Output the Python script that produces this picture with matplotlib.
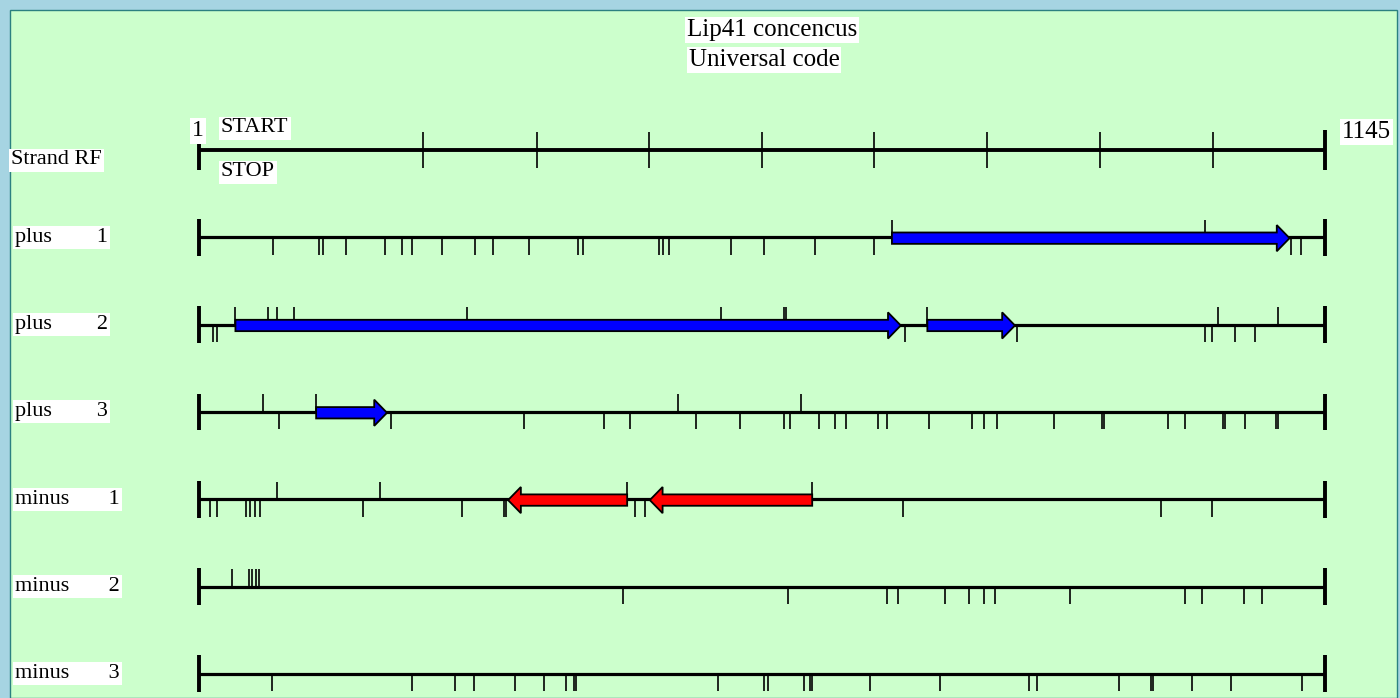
import matplotlib
matplotlib.use("Agg")
import matplotlib.pyplot as plt
from matplotlib.patches import Rectangle, FancyArrow

plt.rcParams['font.family'] = ['Liberation Serif', 'DejaVu Serif']

seq_len = 1145
title = "Lip41 concencus"
subtitle = "Universal code"
ruler_ticks = [229, 344, 458, 573, 687, 802, 916, 1031]

row_names = ["plus        1", "plus        2", "plus        3",
             "minus       1", "minus       2", "minus       3"]

# start codons (ticks above the line)
starts = [
    [705, 1023],
    [38, 71, 80, 98, 273, 531, 595, 597, 741, 1036, 1097],
    [66, 120, 488, 613],
    [80, 185, 436, 624],
    [35, 52, 55, 59, 62],
    [],
]

# stop codons (ticks below the line)
stops = [
    [76, 123, 127, 150, 190, 207, 217, 248, 281, 300, 336, 386, 391, 468, 472,
     479, 542, 575, 627, 687, 1110, 1121],
    [15, 19, 718, 832, 1023, 1030, 1054, 1074],
    [82, 196, 331, 412, 439, 506, 551, 595, 601, 631, 647, 658, 691, 700, 743,
     786, 799, 812, 870, 918, 920, 985, 1003, 1041, 1043, 1064, 1095, 1097],
    [12, 19, 49, 53, 58, 63, 168, 268, 311, 313, 444, 454, 716, 978, 1030],
    [432, 599, 700, 711, 759, 783, 799, 810, 886, 1003, 1020, 1063, 1081],
    [75, 217, 261, 280, 322, 351, 374, 382, 384, 528, 575, 579, 616, 622, 624,
     683, 754, 844, 852, 936, 968, 970, 1010, 1050, 1122],
]

# open reading frames: (start, end); minus strand runs right to left
orfs = [
    [(705, 1109)],
    [(38, 714), (741, 830)],
    [(120, 192)],
    [(436, 315), (624, 459)],
    [],
    [],
]

fig = plt.figure(figsize=(14, 6.98), dpi=100)
fig.patch.set_facecolor('#a6d4e2')
fig.patches.append(Rectangle((10 / 1400, 0), 1387 / 1400, 688 / 698,
                             transform=fig.transFigure, facecolor='#ccffcc',
                             edgecolor='#2b8080', linewidth=1, zorder=-10))

ax = fig.add_axes([0, 0, 1, 1])
ax.set_axis_off()
ax.patch.set_alpha(0)
ax.set_xlim(-201.2, 1221.2)
ax.set_ylim(6.277, -1.718)

tick = 0.2
end = 0.21

# ruler
ax.plot([1, seq_len], [0, 0], color='black', lw=2.8, solid_capstyle='butt')
ax.vlines(ruler_ticks, -end, end, color='black', lw=1.2)
ax.vlines([1, seq_len], -end - 0.02, end + 0.02, color='black', lw=2.8)

for i, name in enumerate(row_names):
    y = i + 1
    ax.plot([1, seq_len], [y, y], color='black', lw=2.3, solid_capstyle='butt', zorder=1)
    ax.vlines([1, seq_len], y - end, y + end, color='black', lw=2.8, zorder=1)
    if starts[i]:
        ax.vlines(starts[i], y - tick, y, color='black', lw=1.2, zorder=1)
    if stops[i]:
        ax.vlines(stops[i], y, y + tick, color='black', lw=1.2, zorder=1)
    col = 'blue' if i < 3 else 'red'
    for a, b in orfs[i]:
        ax.add_patch(FancyArrow(a, y + 0.01, b - a, 0, width=0.13, head_width=0.3,
                                head_length=13, length_includes_head=True,
                                facecolor=col, edgecolor='black', lw=1.3, zorder=3))
    fig.text(15 / 1400, 1 - (150 + 87.3 * y) / 698, name, fontsize=16,
             ha='left', va='center', bbox=dict(facecolor='white', edgecolor='none', pad=1.5))

box = dict(facecolor='white', edgecolor='none', pad=1.5)
fig.text(772 / 1400, 1 - 30 / 698, title, fontsize=18, ha='center', va='center', bbox=box)
fig.text(764 / 1400, 1 - 60 / 698, subtitle, fontsize=18, ha='center', va='center', bbox=box)
fig.text(204 / 1400, 1 - 131 / 698, "1", fontsize=17, ha='right', va='center', bbox=box)
fig.text(1342 / 1400, 1 - 132 / 698, "1145", fontsize=18, ha='left', va='center', bbox=box)
fig.text(221 / 1400, 1 - 128 / 698, "START", fontsize=16, ha='left', va='center', bbox=box)
fig.text(221 / 1400, 1 - 172 / 698, "STOP", fontsize=16, ha='left', va='center', bbox=box)
fig.text(11 / 1400, 1 - 160 / 698, "Strand RF", fontsize=16, ha='left', va='center', bbox=box)

fig.savefig("out.png", dpi=100, facecolor=fig.get_facecolor())
